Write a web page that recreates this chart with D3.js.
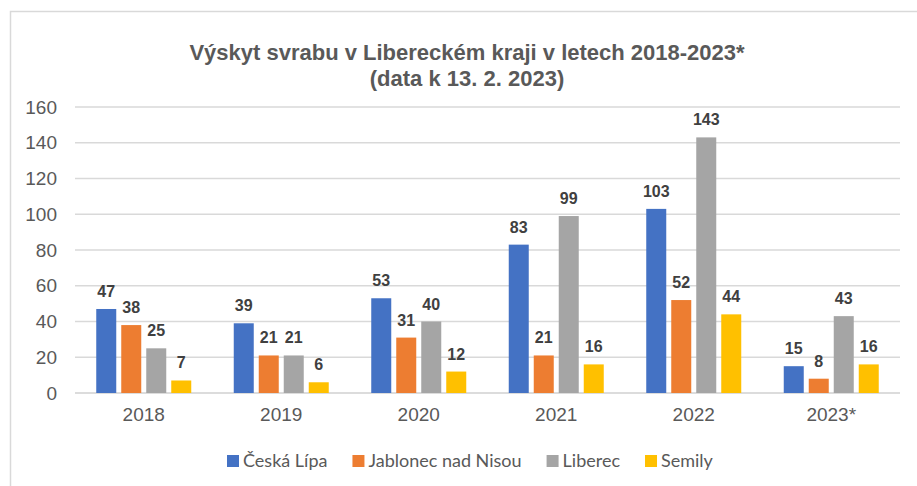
<!DOCTYPE html>
<html>
<head>
<meta charset="utf-8">
<script src="https://cdn.jsdelivr.net/npm/d3@7"></script>
<style>
  body { margin: 0; background: #fff; }
</style>
</head>
<body>
<script>
const width = 917
const height = 486

// data
const years = ['2018', '2019', '2020', '2021', '2022', '2023*']
const districts = ['Česká Lípa', 'Jablonec nad Nisou', 'Liberec', 'Semily']
const ceskaLipa = [47, 39, 53, 83, 103, 15]
const jablonec = [38, 21, 31, 21, 52, 8]
const liberec = [25, 21, 40, 99, 143, 43]
const semily = [7, 6, 12, 16, 44, 16]
const yTicks = [0, 20, 40, 60, 80, 100, 120, 140, 160]
const colors = ['#4472C4', '#ED7D31', '#A5A5A5', '#FFC000']

const series = [ceskaLipa, jablonec, liberec, semily]
const rows = years.map((y, i) => ({
  year: y,
  values: districts.map((d, j) => ({ key: d, value: series[j][i], color: colors[j] }))
}))

const margin = { top: 107, left: 75, right: 17, bottom: 93 }

const svg = d3.select('body')
  .append('svg')
  .attr('width', width)
  .attr('height', height)

// outer frame
svg.append('rect')
  .attr('x', 10.5)
  .attr('y', 11.5)
  .attr('width', width + 10)
  .attr('height', height + 10)
  .attr('fill', 'none')
  .attr('stroke', '#d9d9d9')
  .attr('stroke-width', 1.5)

// title
const title = svg.append('text')
  .attr('text-anchor', 'middle')
  .style('font-family', 'Liberation Sans, Arial, sans-serif')
  .style('font-weight', 'bold')
  .style('font-size', '22px')
  .attr('fill', '#595959')
title.append('tspan').attr('x', 467).attr('y', 60).text('Výskyt svrabu v Libereckém kraji v letech 2018-2023*')
title.append('tspan').attr('x', 467).attr('y', 86).text('(data k 13. 2. 2023)')

const x0 = d3.scaleBand()
  .domain(years)
  .range([margin.left, width - margin.right])
  .padding(0)

const x1 = d3.scaleBand()
  .domain(districts)
  .range([0, 95])
  .paddingInner(0.2)

const y = d3.scaleLinear()
  .domain([0, 160])
  .range([height - margin.bottom, margin.top])

// grid
svg.append('g')
  .selectAll('line')
  .data(yTicks)
  .enter()
  .append('line')
  .attr('x1', margin.left)
  .attr('x2', width - margin.right)
  .attr('y1', d => y(d))
  .attr('y2', d => y(d))
  .attr('stroke', d => d === 0 ? '#d0d0d0' : '#d9d9d9')
  .attr('stroke-width', 1.5)

// y axis labels
const yAxis = svg.append('g')
  .attr('transform', `translate(${margin.left - 18}, 0)`)
  .call(d3.axisLeft(y).tickValues(yTicks).tickSize(0).tickPadding(0))
yAxis.select('.domain').remove()
yAxis.selectAll('text')
  .style('font-family', 'Liberation Sans, Arial, sans-serif')
  .style('font-size', '19px')
  .attr('fill', '#595959')

// x axis labels
const xAxis = svg.append('g')
  .attr('transform', `translate(0, ${y(0)})`)
  .call(d3.axisBottom(x0).tickSize(0).tickPadding(15))
xAxis.select('.domain').remove()
xAxis.selectAll('text')
  .style('font-family', 'Liberation Sans, Arial, sans-serif')
  .style('font-size', '19px')
  .attr('fill', '#595959')

// bars
const groups = svg.append('g')
  .selectAll('g')
  .data(rows)
  .enter()
  .append('g')
  .attr('transform', d => `translate(${x0(d.year) + x0.bandwidth() / 2 - 47.5}, 0)`)

groups.selectAll('rect')
  .data(d => d.values)
  .enter()
  .append('rect')
  .attr('x', d => x1(d.key))
  .attr('y', d => y(d.value))
  .attr('width', x1.bandwidth())
  .attr('height', d => y(0) - y(d.value))
  .attr('fill', d => d.color)

groups.selectAll('text')
  .data(d => d.values)
  .enter()
  .append('text')
  .attr('x', d => x1(d.key) + x1.bandwidth() / 2)
  .attr('y', d => y(d.value) - 12)
  .attr('text-anchor', 'middle')
  .style('font-family', 'Liberation Sans, Arial, sans-serif')
  .style('font-weight', 'bold')
  .style('font-size', '16px')
  .attr('fill', '#404040')
  .text(d => d.value)

// legend
const legend = svg.append('g')
  .attr('transform', 'translate(0, 461)')

let lx = 227
districts.forEach((d, i) => {
  const item = legend.append('g').attr('transform', `translate(${lx}, 0)`)
  item.append('rect')
    .attr('x', 0)
    .attr('y', -6)
    .attr('width', 12)
    .attr('height', 12)
    .attr('fill', colors[i])
  const t = item.append('text')
    .attr('x', 16)
    .attr('y', 6)
    .style('font-family', 'Lato, Open Sans, sans-serif')
    .style('font-size', '18px')
    .attr('fill', '#595959')
    .text(d)
  lx += 16 + t.node().getComputedTextLength() + 25
})
</script>
</body>
</html>
